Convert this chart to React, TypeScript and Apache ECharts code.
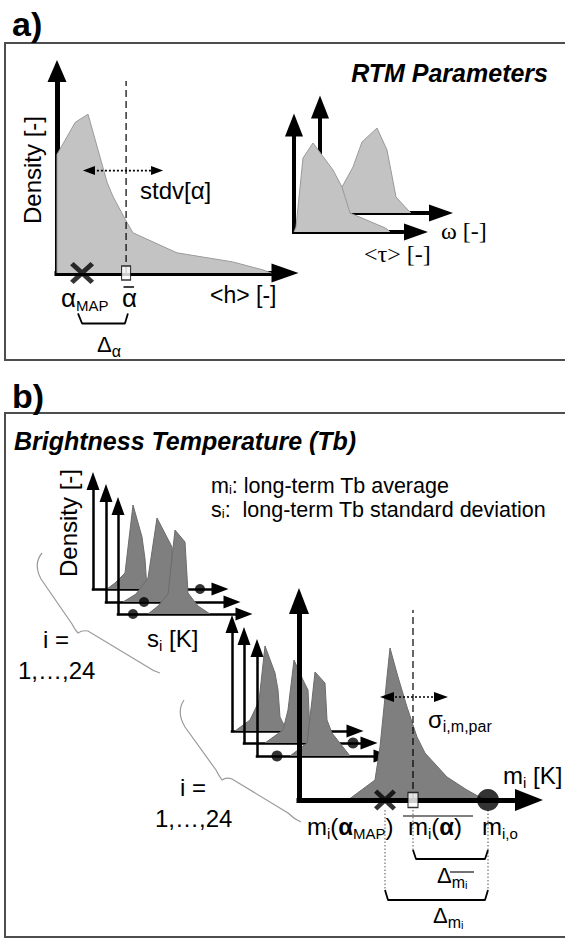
import React, { useEffect, useRef } from "react";
import * as echarts from "echarts";

// ---------------- data (arbitrary density units) ----------------
// Panel a, main distribution of <h>
const hValues = [0, 0, 8, 13.6, 22, 24.6, 30, 33.3, 52.6, 77, 90.4, 94];
const hDensity = [0, 58.7, 74.6, 78.6, 44.8, 37.8, 26.4, 19.9, 10, 5.5, 1.5, 0];
const alphaMAP = 11;
const alphaMean = 30.3;
const stdvRange = [14, 43.9];
const stdvLevel = 50.7;
const alphaMeanLineTop = 95;
const deltaAlphaBracket = [-20, -25];

// Panel a, small distributions: <tau> (front) and omega (back)
const tauValues = [0, 2, 9, 19, 39, 48, 56, 89, 93, 96];
const tauDensity = [0, 5, 74, 89, 62, 45, 19, 5, 3, 0];
const omegaValues = [0, 12, 22, 33, 42, 57, 67, 76, 88, 91];
const omegaDensity = [0, 8, 26, 46, 71, 85, 63, 16, 3, 0];

// Panel b, distributions of s_i (three of i = 1..24 shown)
const sValues = [
  [14, 22, 32, 40, 49, 52, 54],
  [17, 30, 42, 51, 66, 67, 68],
  [30, 40, 50, 57, 67, 70, 80, 92],
];
const sDensity = [
  [0, 6, 16, 84, 52, 30, 0],
  [0, 8, 24, 84, 55, 20, 0],
  [0, 8, 20, 84, 72, 21, 8, 0],
];
const sObserved = [107, 38, 15];

// Panel b, distributions of m_i for other i
const mOtherValues = [
  [3, 18, 27, 33, 43, 46, 48, 53, 58],
  [21, 39, 44, 50, 59, 64, 66, 79],
  [33, 50, 55, 58, 68, 70, 75, 93],
];
const mOtherDensity = [
  [0, 11, 30, 85, 58, 41, 14, 4, 0],
  [0, 13, 33, 83, 63, 53, 10, 0],
  [0, 13, 56, 84, 73, 36, 23, 0],
];
const mOtherObserved = [null, 109, 20];

// Panel b, main distribution of m_i
const mValues = [49, 76, 81, 88, 91, 99, 108, 118, 126, 148, 168, 186];
const mDensity = [0, 20, 53, 123, 152, 123, 93, 63, 47, 23, 10, 0];
const mMAP = 86;
const mMean = 114;
const mObs = 189;
const sigmaRange = [88, 142];
const sigmaLevel = 103;
const mMeanLineTop = 190;
const deltaMeanBracket = [-50, -59];
const deltaMapBracket = [-90, -100];

// ---------------- layout ----------------
const GRIDS = [
  { l: 57, t: 71, w: 228, h: 202, xmax: 100, ymax: 100, lw: 5, ax: [19, 27], ay: [19, 22], z: 0 }, // 0 a main
  { l: 320, t: 107, w: 121, h: 106, lw: 4, ax: [17, 24], ay: [18, 23], z: 0 }, // 1 omega
  { l: 294, t: 125, w: 122, h: 107, lw: 4, ax: [17, 24], ay: [18, 23], z: 2 }, // 2 tau
  { l: 93, t: 481, w: 127, h: 108, lw: 2.5, ax: [13, 17], ay: [13, 18], z: 0 }, // 3
  { l: 106, t: 493, w: 126, h: 109, lw: 2.5, ax: [13, 17], ay: [13, 18], z: 2 }, // 4
  { l: 118, t: 506, w: 126, h: 108, lw: 2.5, ax: [13, 17], ay: [13, 18], z: 4 }, // 5
  { l: 232, t: 624, w: 123, h: 107, lw: 2.5, ax: [13, 17], ay: [13, 18], z: 0 }, // 6
  { l: 244, t: 636, w: 125, h: 107, lw: 2.5, ax: [13, 17], ay: [13, 18], z: 2 }, // 7
  { l: 257, t: 648, w: 125, h: 108, lw: 2.5, ax: [13, 17], ay: [13, 18], z: 4 }, // 8
  { l: 299, t: 601, w: 230, h: 199, lw: 5, ax: [22, 28], ay: [20, 26], z: 7 }, // 9 b main
];

const FONT = '"Liberation Sans", Arial, Helvetica, sans-serif';
const SERIF = '"Liberation Serif", "Times New Roman", serif';
const LIGHT_FILL = "#c3c3c3";
const LIGHT_EDGE = "#9a9a9a";
const DARK_FILL = "#7f7f7f";
const DARK_EDGE = "#6c6c6c";

const BRACE1 = "M42,553 Q33,564 41,579 L72,624 Q75,630 78,633 Q82,630 88,631 L146,666 Q153,671 160,673";
const BRACE2 = "M184,700 Q176,712 185,727 L216,770 Q219,776 222,780 Q226,777 232,779 L288,813 Q294,819 301,822";
echarts.graphic.registerShape("brace1", echarts.graphic.extendPath(BRACE1, {}));
echarts.graphic.registerShape("brace2", echarts.graphic.extendPath(BRACE2, {}));

const XMARK = "path://M0,3 L3,0 L10,7 L17,0 L20,3 L13,10 L20,17 L17,20 L10,13 L3,20 L0,17 L7,10 Z";

function pairs(xs: number[], ys: number[]) {
  return xs.map((x, i) => [x, ys[i]]);
}

function areaSeries(gi: number, xs: number[], ys: number[], fill: string, edge: string, z = 2) {
  return {
    type: "line",
    xAxisIndex: gi,
    yAxisIndex: gi,
    data: pairs(xs, ys),
    symbol: "none",
    silent: true,
    clip: false,
    z,
    lineStyle: { color: edge, width: 1 },
    areaStyle: { color: fill, opacity: 1 },
  };
}

function lineSeries(gi: number, data: number[][], style: any, z = 3) {
  return {
    type: "line",
    xAxisIndex: gi,
    yAxisIndex: gi,
    data,
    symbol: "none",
    silent: true,
    clip: false,
    z,
    lineStyle: { color: "#000", width: 1.5, ...style },
  };
}

function arrowSeries(gi: number, range: number[], level: number, size: number[], z = 4) {
  return {
    type: "line",
    xAxisIndex: gi,
    yAxisIndex: gi,
    silent: true,
    clip: false,
    z,
    showSymbol: true,
    symbol: "triangle",
    symbolSize: size,
    itemStyle: { color: "#000" },
    lineStyle: { color: "#000", width: 1.6, type: [2, 2] },
    data: [
      { value: [range[0], level], symbolRotate: 90 },
      { value: [range[1], level], symbolRotate: -90 },
    ],
  };
}

function scatter(gi: number, xs: number[], symbol: string, size: any, itemStyle: any, z = 6) {
  return {
    type: "scatter",
    xAxisIndex: gi,
    yAxisIndex: gi,
    silent: true,
    clip: false,
    z,
    symbol,
    symbolSize: size,
    itemStyle,
    data: xs.map((x) => [x, 0]),
  };
}

function text(x: number, y: number, str: string, o: any = {}) {
  const size = o.size ?? 24;
  return {
    type: "text",
    x,
    y,
    z: 100,
    rotation: o.rotation ?? 0,
    silent: true,
    style: {
      text: str,
      fill: "#000",
      fontSize: size,
      fontFamily: o.family ?? FONT,
      fontWeight: o.weight ?? "normal",
      fontStyle: o.fontStyle ?? "normal",
      align: o.align ?? "left",
      textAlign: o.align ?? "left",
      verticalAlign: "middle",
      textVerticalAlign: "middle",
      lineHeight: o.lh ?? 30,
      rich: o.rich,
    },
  };
}

const subStyle = (size = 15, weight = "normal") => ({
  fontSize: size,
  fontFamily: FONT,
  fontWeight: weight,
  lineHeight: size,
  verticalAlign: "bottom",
  fill: "#000",
});
const boldStyle = (size = 24) => ({ fontSize: size, fontFamily: FONT, fontWeight: "bold", lineHeight: 30, fill: "#000" });

function hline(x1: number, x2: number, y: number, w = 1.3) {
  return { type: "line", z: 100, silent: true, shape: { x1, y1: y, x2, y2: y }, style: { stroke: "#000", lineWidth: w } };
}

export default function App() {
  const ref = useRef<HTMLDivElement>(null);

  useEffect(() => {
    document.body.style.margin = "0";
    if (!ref.current) return;
    const chart = echarts.init(ref.current, undefined, { renderer: "svg" });

    const grid = GRIDS.map((g) => ({ left: g.l, top: g.t, width: g.w, height: g.h, containLabel: false }));
    const axisBase = (gi: number, max: number, sym: number[], g: any) => ({
      type: "value",
      gridIndex: gi,
      min: 0,
      max,
      z: g.z,
      axisTick: { show: false },
      axisLabel: { show: false },
      splitLine: { show: false },
      axisLine: {
        show: true,
        onZero: false,
        symbol: ["none", "triangle"],
        symbolSize: sym,
        lineStyle: { color: "#000", width: g.lw, cap: "square" },
      },
    });
    const xAxis = GRIDS.map((g, i) => axisBase(i, g.xmax ?? g.w, g.ax, g));
    const yAxis = GRIDS.map((g, i) => axisBase(i, g.ymax ?? g.h, g.ay, g));

    const series: any[] = [];
    // ---- panel a main
    series.push(areaSeries(0, hValues, hDensity, LIGHT_FILL, LIGHT_EDGE, 2));
    series.push(lineSeries(0, [[alphaMean, 0], [alphaMean, alphaMeanLineTop]], { width: 1.2, type: [7, 4] }, 3));
    series.push(arrowSeries(0, stdvRange, stdvLevel, [9, 12], 4));
    series.push(
      lineSeries(0, [
        [alphaMAP - 1.8, deltaAlphaBracket[0]],
        [alphaMAP, deltaAlphaBracket[1]],
        [alphaMean - 0.5, deltaAlphaBracket[1]],
        [alphaMean + 0.8, deltaAlphaBracket[0]],
      ], { width: 1.8 })
    );
    series.push(scatter(0, [alphaMAP], XMARK, [24, 22], { color: "#000" }));
    series.push(scatter(0, [alphaMean], "rect", [9, 14], { color: "#fff", borderColor: "#000", borderWidth: 1.3 }));
    // ---- panel a small (back then front)
    series.push(areaSeries(1, omegaValues, omegaDensity, LIGHT_FILL, LIGHT_EDGE, 1));
    series.push(areaSeries(2, tauValues, tauDensity, LIGHT_FILL, LIGHT_EDGE, 3));
    // ---- panel b s_i
    for (let k = 0; k < 3; k++) {
      series.push(areaSeries(3 + k, sValues[k], sDensity[k], DARK_FILL, DARK_EDGE, 2 * k + 1));
    }
    for (let k = 0; k < 3; k++) {
      series.push(scatter(3 + k, [sObserved[k]], "circle", 10, { color: "#000" }, 10));
    }
    // ---- panel b other m_i
    for (let k = 0; k < 3; k++) {
      series.push(areaSeries(6 + k, mOtherValues[k], mOtherDensity[k], DARK_FILL, DARK_EDGE, 2 * k + 1));
    }
    for (let k = 0; k < 3; k++) {
      const v = mOtherObserved[k];
      if (v != null) series.push(scatter(6 + k, [v], "circle", 11, { color: "#000" }, 10));
    }
    // ---- panel b main m_i
    series.push(areaSeries(9, mValues, mDensity, DARK_FILL, DARK_EDGE, 6));
    series.push(lineSeries(9, [[mMean, 0], [mMean, mMeanLineTop]], { width: 1.2, type: [7, 4] }, 8));
    series.push(arrowSeries(9, sigmaRange, sigmaLevel, [10, 14], 9));
    const guide = { width: 1, type: [1.5, 2], color: "#555" };
    series.push(lineSeries(9, [[mMAP, -10], [mMAP, deltaMapBracket[0]]], guide, 8));
    series.push(lineSeries(9, [[mMean, -10], [mMean, deltaMeanBracket[0]]], guide, 8));
    series.push(lineSeries(9, [[mObs, -10], [mObs, deltaMapBracket[0]]], guide, 8));
    series.push(
      lineSeries(9, [
        [mMean, deltaMeanBracket[0]],
        [mMean + 3, deltaMeanBracket[1]],
        [mObs - 3, deltaMeanBracket[1]],
        [mObs, deltaMeanBracket[0]],
      ], { width: 1.8 }, 8)
    );
    series.push(
      lineSeries(9, [
        [mMAP, deltaMapBracket[0]],
        [mMAP + 3, deltaMapBracket[1]],
        [mObs - 3, deltaMapBracket[1]],
        [mObs, deltaMapBracket[0]],
      ], { width: 1.8 }, 8)
    );
    series.push(scatter(9, [mMAP], XMARK, [22, 21], { color: "#000" }, 11));
    series.push(scatter(9, [mMean], "rect", [10, 15], { color: "#fff", borderColor: "#000", borderWidth: 1.3 }, 11));
    series.push(scatter(9, [mObs], "circle", 22, { color: "#000" }, 11));

    const sub15 = subStyle(15);
    const graphic: any[] = [
      { type: "rect", z: 0, silent: true, shape: { x: 5, y: 43, width: 620, height: 317 }, style: { fill: "none", stroke: "#4d4d4d", lineWidth: 2 } },
      { type: "rect", z: 0, silent: true, shape: { x: 5, y: 413, width: 620, height: 524 }, style: { fill: "none", stroke: "#4d4d4d", lineWidth: 2 } },
      text(12, 24, "a)", { size: 34, weight: "bold", lh: 38 }),
      text(12, 396, "b)", { size: 34, weight: "bold", lh: 38 }),
      text(548, 73, "RTM Parameters", { size: 25, weight: "bold", fontStyle: "italic", align: "right" }),
      text(14, 441, "Brightness Temperature (Tb)", { size: 25, weight: "bold", fontStyle: "italic" }),
      // panel a labels
      text(32, 170, "Density [-]", { size: 24, rotation: Math.PI / 2, align: "center" }),
      text(140, 190, "stdv[α]", { size: 24 }),
      text(61, 298, "α{s|MAP}", { size: 26, rich: { s: subStyle(15) } }),
      text(122, 298, "α", { size: 26 }),
      hline(123.5, 134, 287, 1.5),
      text(210, 295, "<h> [-]", { size: 23 }),
      text(97, 344, "Δ{s|α}", { size: 22, rich: { s: subStyle(16) } }),
      text(441, 231, "ω [-]", { size: 24, family: SERIF }),
      text(364, 254, "<τ> [-]", { size: 24, family: SERIF }),
      // panel b labels
      text(211, 486, "m{s|i}: long-term Tb average", { size: 21.5, lh: 20, rich: { s: subStyle(13) } }),
      text(211, 510, "s{s|i}:  long-term Tb standard deviation", { size: 21.5, lh: 20, rich: { s: subStyle(13) } }),
      text(68, 523, "Density [-]", { size: 24, rotation: Math.PI / 2, align: "center" }),
      text(147, 638, "s{s|i} [K]", { size: 24, rich: { s: sub15 } }),
      text(43, 639, "i =", { size: 24 }),
      text(18, 670, "1,…,24", { size: 24 }),
      text(180, 787, "i =", { size: 24 }),
      text(155, 818, "1,…,24", { size: 24 }),
      text(503, 775, "m{s|i} [K]", { size: 24, rich: { s: sub15 } }),
      text(428, 719, "σ{s|i,m,par}", { size: 24, rich: { s: subStyle(16) } }),
      text(307, 826, "m{s|i}({b|α}{s|MAP})", { size: 24, rich: { s: sub15, b: boldStyle(24) } }),
      text(408, 826, "m{s|i}({b|α})", { size: 24, rich: { s: sub15, b: boldStyle(24) } }),
      hline(403, 473, 816, 1.2),
      text(482, 826, "m{s|i,o}", { size: 24, rich: { s: sub15 } }),
      text(437, 875, "Δ{s|m}{ss|i}", { size: 22, rich: { s: subStyle(16), ss: subStyle(11) } }),
      hline(450, 474, 872, 1.1),
      text(433, 915, "Δ{s|m}{ss|i}", { size: 22, rich: { s: subStyle(16), ss: subStyle(11) } }),
      { type: "brace1", x: 0, y: 0, z: 50, silent: true, style: { fill: "none", stroke: "#9a9a9a", lineWidth: 1.2 } },
      { type: "brace2", x: 0, y: 0, z: 50, silent: true, style: { fill: "none", stroke: "#9a9a9a", lineWidth: 1.2 } },
    ];

    chart.setOption({
      animation: false,
      backgroundColor: "#ffffff",
      grid,
      xAxis,
      yAxis,
      series,
      graphic,
    });

    return () => chart.dispose();
  }, []);

  return (
    <div
      ref={ref}
      style={{ position: "absolute", left: 0, top: 0, width: 565, height: 939, background: "#fff" }}
    />
  );
}
